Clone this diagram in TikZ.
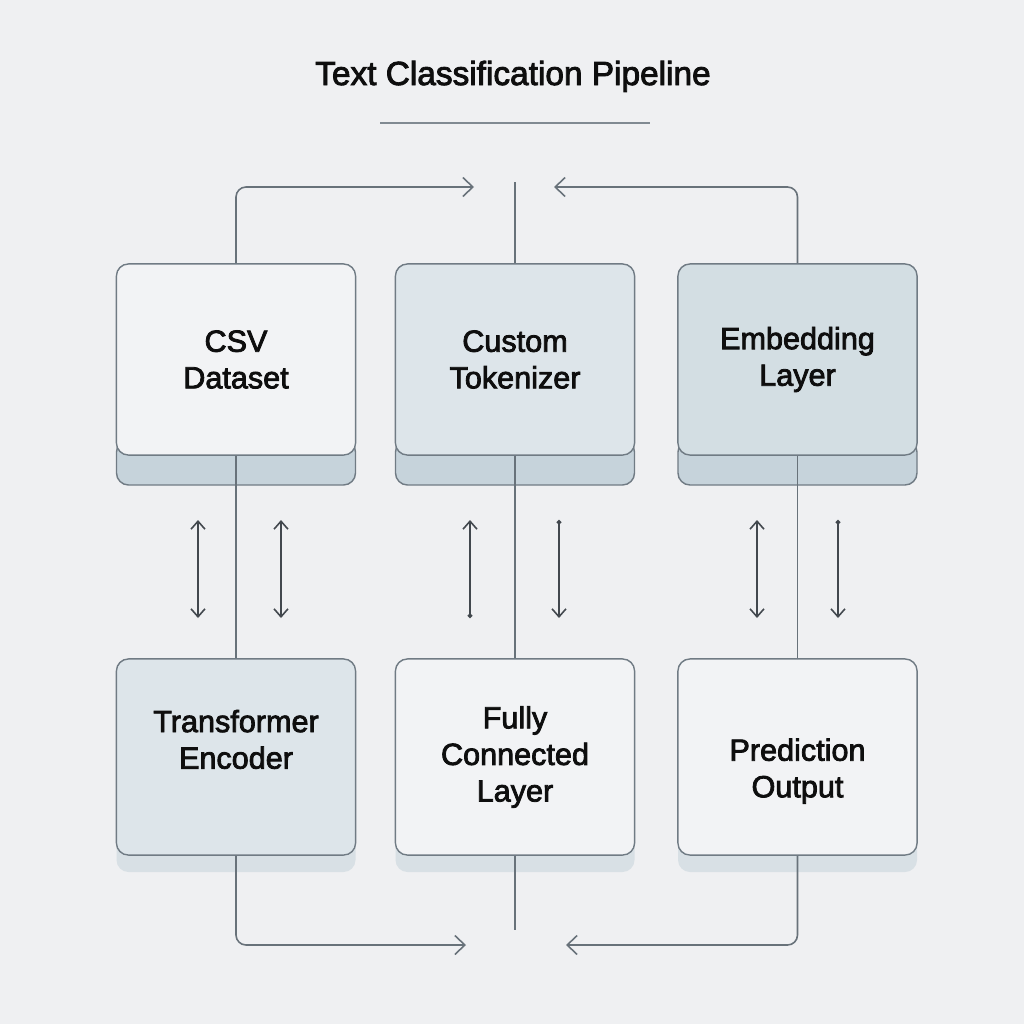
\documentclass[tikz,border=0pt]{standalone}
\usepackage{fontspec}
\setmainfont{Liberation Sans}
\newfontfamily\boxfont{Liberation Sans}[FakeBold=2.6]
\usetikzlibrary{arrows.meta}

\definecolor{pagebg}{RGB}{239,240,242}
\definecolor{paleface}{RGB}{242,243,245}
\definecolor{mistface}{RGB}{221,229,234}
\definecolor{slateface}{RGB}{211,222,227}
\definecolor{stackface}{RGB}{198,211,219}
\definecolor{shadeface}{RGB}{216,224,229}
\definecolor{edge}{RGB}{112,123,132}
\definecolor{wire}{RGB}{104,114,122}
\definecolor{pairwire}{RGB}{66,72,78}
\definecolor{ink}{RGB}{14,14,14}

\tikzset{
  boxtext/.style={align=center, text=ink, font=\boxfont\fontsize{8.7}{10.4}\selectfont},
  box/.style={boxtext, draw=edge, line width=0.4pt, rounded corners=1.2mm,
    minimum width=2.39cm, minimum height=1.91cm},
  lowbox/.style={minimum height=1.96cm},
  headline/.style={anchor=base, text=ink, font=\boxfont\fontsize{9.5}{11}\selectfont},
  rule/.style={draw={rgb,255:red,128;green,138;blue,146}, line width=0.4pt},
  stack/.style={draw=edge, line width=0.4pt, fill=stackface, rounded corners=1.2mm},
  link/.style={draw=wire, line width=0.45pt, rounded corners=1mm},
  linktip/.style={-{Straight Barb[length=1mm,width=1.9mm]}},
  pair/.style={draw=pairwire, line width=0.45pt},
  twoway/.style={{Straight Barb[length=0.8mm,width=1.4mm]}-{Straight Barb[length=0.8mm,width=1.4mm]}},
  upway/.style={{Straight Barb[length=0.8mm,width=1.4mm]}-{Circle[length=0.45mm]}},
  downway/.style={{Circle[length=0.45mm]}-{Straight Barb[length=0.8mm,width=1.4mm]}}
}

\begin{document}
\begin{tikzpicture}[x=0.01cm,y=-0.01cm]
% page
\fill[pagebg] (0,0) rectangle (1024,1024);
\useasboundingbox (0,0) rectangle (1024,1024);

% title
\node[headline] (title) at (513,85) {Text Classification Pipeline};
\draw[rule] (380,123) -- (650,123);

% layers under the boxes
\foreach \cx in {236,515,797.5}{
  \draw[stack] (\cx-119.5,440) rectangle (\cx+119.5,485);
  \fill[shadeface, rounded corners=1.2mm] (\cx-119.5,820) rectangle (\cx+119.5,872);
}

% upper row
\node[box, fill=paleface] (csv) at (236,359.5) {CSV\\Dataset};
\node[box, fill=mistface] (tok) at (515,359.5) {Custom\\Tokenizer};
\node[box, fill=slateface] (emb) at (797.5,359.5) {Embedding\\Layer};

% lower row
\node[box, lowbox, fill=mistface, label={[boxtext, yshift=5pt]center:Transformer\\Encoder}] (enc) at (236,757) {};
\node[box, lowbox, fill=paleface] (fc) at (515,757) {Fully\\Connected\\Layer};
\node[box, lowbox, fill=paleface, label={[boxtext, yshift=-4pt]center:Prediction\\Output}] (pred) at (797.5,757) {};

% between the rows
\draw[link] (csv.south) -- (enc.north);
\draw[link] (tok.south) -- (fc.north);
\draw[link] (emb.south) -- (pred.north);
\foreach \x/\kind in {198/twoway,281/twoway,470/upway,559/downway,757/twoway,838/downway}
  \draw[pair,\kind] (\x,520) -- (\x,618);

% top returns
\coordinate (inL) at (474,187);
\coordinate (inR) at (554,187);
\coordinate (hub) at (515,182);
\draw[link,linktip] (csv.north) |- (inL);
\draw[link] (tok.north) -- (hub);
\draw[link,linktip] (emb.north) |- (inR);

% bottom returns
\coordinate (outL) at (466,945);
\coordinate (outR) at (566,945);
\coordinate (tail) at (515,930);
\draw[link,linktip] (enc.south) |- (outL);
\draw[link] (fc.south) -- (tail);
\draw[link,linktip] (pred.south) |- (outR);
\end{tikzpicture}
\end{document}
